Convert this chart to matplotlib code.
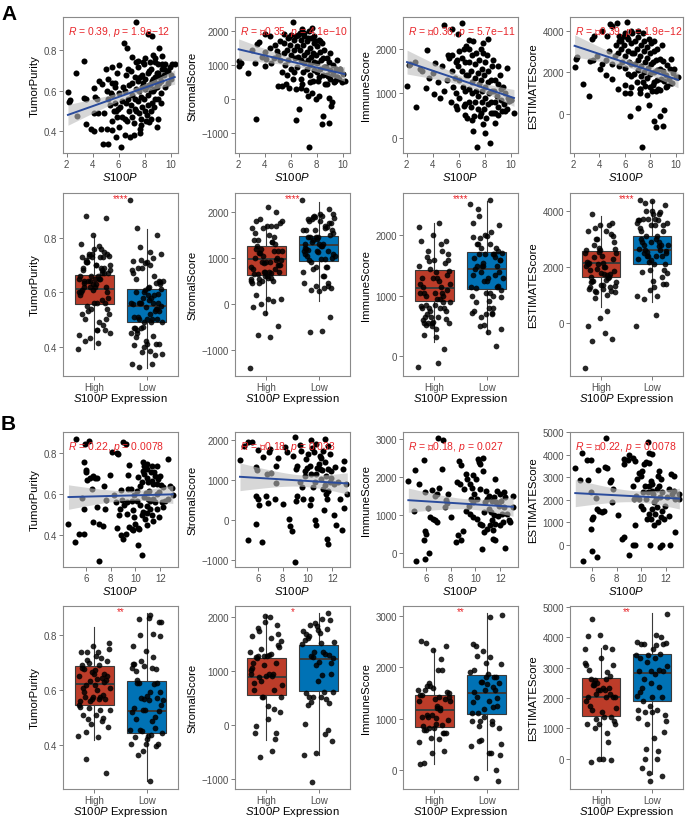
# correlation of S100P expression with ESTIMATE scores, two cohorts (A, B)
import numpy as np
import matplotlib
matplotlib.use("Agg")
import matplotlib.pyplot as plt

plt.rcParams["font.family"] = ["Liberation Sans", "DejaVu Sans"]
plt.rcParams["mathtext.fontset"] = "custom"
plt.rcParams["mathtext.rm"] = "Liberation Sans"
plt.rcParams["mathtext.it"] = "Liberation Sans:italic"

# ---------------- data ----------------
score_names = ["TumorPurity", "StromalScore", "ImmuneScore", "ESTIMATEScore"]
group_names = ["High", "Low"]

# cohort A scatter, (S100P, score)
a_purity = [
    (7.32, 0.939), (3.36, 0.749), (2.74, 0.688), (2.1, 0.595), (2.2, 0.545), (2.25, 0.555), (3.33, 0.562),
    (3.5, 0.56), (4.12, 0.612), (4.2, 0.57), (3.5, 0.435), (3.9, 0.41), (4.07, 0.40), (4.8, 0.335),
    (5.2, 0.335), (6.2, 0.324), (4.66, 0.41), (5.1, 0.41), (5.48, 0.407), (5.79, 0.37), (6.45, 0.38),
    (6.88, 0.372), (7.2, 0.383), (7.6, 0.393), (7.65, 0.413), (8.24, 0.879), (8.55, 0.873), (9.06, 0.81),
    (6.37, 0.836), (6.63, 0.81), (8.6, 0.777), (8.8, 0.76), (9.3, 0.732), (10.1, 0.732), (9.77, 0.70),
    (8.93, 0.633), (5.0, 0.707), (5.5, 0.716), (5.99, 0.727), (7.0, 0.765), (7.5, 0.749), (7.9, 0.74),
    (5.48, 0.638), (5.73, 0.617), (4.5, 0.65), (4.7, 0.633), (8.3, 0.443), (2.77, 0.474),
    (5.52, 0.45), (5.48, 0.58), (5.77, 0.50), (5.73, 0.64), (6.02, 0.42), (5.98, 0.51), (6.05, 0.59),
    (6.27, 0.47), (6.22, 0.55), (6.3, 0.62), (6.48, 0.46), (6.53, 0.54), (6.45, 0.60), (6.55, 0.68),
    (6.77, 0.50), (6.72, 0.56), (6.8, 0.63), (6.74, 0.71), (7.02, 0.47), (6.97, 0.53), (7.05, 0.58),
    (7.0, 0.64), (6.95, 0.70), (7.27, 0.51), (7.22, 0.56), (7.3, 0.61), (7.25, 0.67), (7.2, 0.44),
    (7.52, 0.49), (7.47, 0.55), (7.55, 0.60), (7.5, 0.65), (7.45, 0.72), (7.77, 0.52), (7.72, 0.57),
    (7.8, 0.62), (7.75, 0.68), (7.7, 0.46), (8.02, 0.50), (7.97, 0.56), (8.05, 0.61), (8.0, 0.66),
    (7.95, 0.73), (8.27, 0.53), (8.22, 0.58), (8.3, 0.63), (8.25, 0.69), (8.2, 0.48), (8.52, 0.54),
    (8.47, 0.60), (8.55, 0.65), (8.5, 0.71), (8.45, 0.50), (8.77, 0.56), (8.72, 0.61), (8.8, 0.67),
    (8.75, 0.74), (8.7, 0.52), (9.02, 0.56), (8.97, 0.62), (9.05, 0.69), (9.0, 0.73), (9.27, 0.59),
    (9.22, 0.65), (9.3, 0.71), (9.25, 0.54), (9.52, 0.62), (9.47, 0.68), (9.55, 0.73), (9.77, 0.64),
    (9.72, 0.70), (10.02, 0.66), (9.97, 0.72),
    (8.1, 0.62), (8.4, 0.63), (8.6, 0.60), (8.9, 0.69), (9.1, 0.64), (9.2, 0.67), (8.3, 0.70), (7.9, 0.64),
    (7.6, 0.67), (8.6, 0.66), (8.7, 0.65), (9.3, 0.77), (9.5, 0.71), (8.4, 0.74), (8.0, 0.76), (7.3, 0.74),
    (10.3, 0.73), (10.0, 0.68), (5.4, 0.59), (5.1, 0.60), (5.7, 0.54), (4.4, 0.49), (4.3, 0.56), (4.9, 0.49),
    (5.2, 0.56), (5.3, 0.53), (5.6, 0.50), (5.9, 0.47), (5.2, 0.66), (5.9, 0.69), (4.1, 0.49), (6.1, 0.52),
    (6.6, 0.45), (7.3, 0.50), (7.7, 0.43), (8.1, 0.45), (8.5, 0.46), (8.9, 0.42), (9.0, 0.46),
]
a_stromal = [
    (6.2, 2255), (7.41, -1402), (3.32, -588), (6.38, -608), (6.64, -294), (8.4, -735), (8.97, -686),
    (8.5, -490), (9.1, -196), (9.15, -78), (8.97, 49), (7.93, 0), (8.19, 98), (2.0, 1127), (2.15, 1078),
    (2.05, 980), (2.75, 765), (3.27, 1078), (4.05, 980), (4.13, 1176), (5.03, 392), (5.34, 392), (5.6, 441),
    (5.86, 343), (6.38, 294), (6.77, 343), (7.16, 274), (7.34, 98), (7.67, 196), (3.4, 1618), (3.53, 1667),
    (4.05, 1912), (4.44, 1863), (5.47, 1912), (5.86, 1814), (6.9, 2059), (7.41, 2010), (4.95, 1422),
    (4.69, 1225), (9.75, 882), (10.13, 539), (9.56, 667), (9.36, 539), (8.84, 686),
    (5.52, 1650), (5.47, 1350), (5.55, 1000), (5.77, 1800), (5.72, 1450), (5.8, 1150), (6.02, 1900),
    (5.97, 1600), (6.05, 1300), (6.0, 900), (6.27, 1750), (6.22, 1450), (6.3, 1200), (6.25, 800),
    (6.52, 1900), (6.47, 1550), (6.55, 1250), (6.5, 950), (6.77, 1750), (6.72, 1450), (6.8, 1150),
    (6.75, 600), (7.02, 1850), (6.97, 1600), (7.05, 1300), (7.0, 1050), (6.95, 800), (7.27, 1700),
    (7.22, 1400), (7.3, 1150), (7.25, 900), (7.52, 1800), (7.47, 1500), (7.55, 1250), (7.5, 1000),
    (7.45, 700), (7.77, 1650), (7.72, 1350), (7.8, 1100), (7.75, 850), (7.7, 550), (8.02, 1550),
    (7.97, 1300), (8.05, 1050), (8.0, 800), (8.27, 1700), (8.22, 1400), (8.3, 1150), (8.25, 900),
    (8.2, 650), (8.52, 1450), (8.47, 1200), (8.55, 950), (8.5, 700), (8.77, 1200), (8.72, 950),
    (8.8, 700), (8.75, 450), (9.02, 1350), (8.97, 1100), (9.05, 850), (9.0, 600), (9.27, 1000),
    (9.22, 750), (9.3, 500), (9.52, 1150), (9.47, 900), (9.55, 650), (9.77, 850), (9.72, 600),
    (10.02, 750), (9.97, 500),
    (4.8, 1600), (4.5, 1050), (3.8, 1250), (3.0, 1450), (4.4, 1500), (5.2, 1150), (5.0, 1300), (5.2, 1700),
    (4.0, 1400), (7.0, 1950), (7.8, 1850), (8.2, 1750), (6.7, 1950), (7.6, 2100), (6.4, 1850), (7.3, 1800),
    (7.9, 1700), (8.4, 1650), (6.9, 450), (7.5, 500), (8.1, 550), (8.6, 450), (5.3, 800), (5.7, 700),
    (6.2, 600),
]
a_immune = [
    (4.88, 2522), (6.25, 2582), (5.47, 2433), (7.39, -194), (8.42, -119), (2.03, 1164), (2.73, 701),
    (3.53, 1970), (4.18, 1687), (5.26, 1799), (4.1, 978), (4.54, 903), (3.45, 1127), (9.02, 507),
    (9.54, 604), (10.24, 567), (9.88, 828), (9.36, 1142), (9.67, 1575), (9.15, 1403), (7.08, 157),
    (6.51, 507), (5.78, 716), (6.43, 716), (7.85, 306), (8.76, 343), (7.98, 119), (7.6, 493), (5.91, 2321),
    (7.08, 2172), (7.85, 2134), (8.24, 2209), (6.82, 1985), (2.16, 1627), (2.28, 1649), (3.19, 1500),
    (2.67, 1701),
    (5.52, 1850), (5.47, 1500), (5.55, 1150), (5.77, 1700), (5.72, 1350), (5.8, 1000), (6.02, 1950),
    (5.97, 1600), (6.05, 1300), (6.0, 900), (6.27, 1800), (6.22, 1500), (6.3, 1150), (6.52, 2050),
    (6.47, 1700), (6.55, 1400), (6.5, 1050), (6.45, 750), (6.77, 1700), (6.72, 1400), (6.8, 1100),
    (6.75, 800), (7.02, 1850), (6.97, 1500), (7.05, 1250), (7.0, 1000), (6.95, 700), (7.27, 1650),
    (7.22, 1350), (7.3, 1050), (7.25, 800), (7.2, 500), (7.52, 1750), (7.47, 1450), (7.55, 1200),
    (7.5, 950), (7.45, 650), (7.77, 1550), (7.72, 1300), (7.8, 1050), (7.75, 800), (7.7, 550),
    (8.02, 1700), (7.97, 1400), (8.05, 1150), (8.0, 900), (7.95, 650), (8.27, 1500), (8.22, 1250),
    (8.3, 1000), (8.25, 750), (8.52, 1600), (8.47, 1300), (8.55, 1050), (8.5, 800), (8.45, 550),
    (8.77, 1300), (8.72, 1050), (8.8, 800), (8.75, 550), (9.02, 1200), (8.97, 950), (9.05, 700),
    (9.27, 1100), (9.22, 850), (9.3, 600), (9.52, 1000), (9.47, 750), (9.77, 900), (9.72, 650),
    (10.02, 850),
    (4.7, 1600), (4.4, 1250), (4.0, 1450), (3.7, 1350), (3.0, 1550), (5.1, 1300), (4.9, 1050), (5.2, 1850),
    (5.9, 1750), (6.4, 2000), (6.8, 2200), (7.3, 1900), (7.7, 2000), (7.9, 1900), (8.2, 1850), (8.6, 1750),
    (9.0, 1600), (5.4, 800), (5.9, 650), (6.6, 450), (7.0, 400), (8.1, 450), (8.6, 550),
]
a_estimate = [
    (7.36, -1629), (6.4, -129), (8.3, -371), (8.43, -661), (8.99, -581), (9.07, 161), (8.74, -129),
    (7.05, 274), (7.88, 435), (3.24, 839), (2.7, 1403), (2.08, 2258), (2.18, 2645), (2.26, 2742),
    (3.3, 2532), (3.48, 2565), (4.07, 2129), (4.51, 1839), (4.98, 1645), (5.45, 1194), (6.01, 968),
    (6.4, 968), (7.18, 1161), (7.57, 1323), (8.22, 1371), (9.64, 1484), (10.16, 1758), (9.85, 2129),
    (9.64, 2613), (4.85, 4306), (4.98, 4226), (5.37, 4355), (6.15, 4419), (4.2, 3984), (3.63, 3742),
    (3.42, 3581), (5.55, 3742), (4.6, 3742),
    (5.52, 3500), (5.47, 2900), (5.55, 2300), (5.77, 3700), (5.72, 3100), (5.8, 2500), (6.02, 3900),
    (5.97, 3300), (6.05, 2800), (6.0, 2200), (6.27, 3600), (6.22, 3000), (6.3, 2500), (6.25, 1900),
    (6.52, 4000), (6.47, 3400), (6.55, 2900), (6.5, 2400), (6.45, 1800), (6.77, 3500), (6.72, 2900),
    (6.8, 2400), (6.75, 1900), (7.02, 3700), (6.97, 3100), (7.05, 2600), (7.0, 2100), (6.95, 1500),
    (7.27, 3300), (7.22, 2800), (7.3, 2300), (7.25, 1800), (7.2, 1200), (7.52, 3500), (7.47, 3000),
    (7.55, 2500), (7.5, 2000), (7.45, 1500), (7.77, 3200), (7.72, 2700), (7.8, 2200), (7.75, 1700),
    (8.02, 3400), (7.97, 2900), (8.05, 2400), (8.0, 1900), (7.95, 1300), (8.27, 3000), (8.22, 2500),
    (8.3, 2000), (8.25, 1500), (8.52, 3100), (8.47, 2600), (8.55, 2100), (8.5, 1600), (8.45, 1100),
    (8.77, 2650), (8.72, 2150), (8.8, 1650), (8.75, 1150), (9.02, 2550), (8.97, 2050), (9.05, 1550),
    (9.27, 2350), (9.22, 1850), (9.3, 1350), (9.52, 2150), (9.47, 1650), (9.77, 1950), (9.72, 1450),
    (10.02, 1750),
    (4.8, 3000), (4.5, 2600), (4.2, 2400), (3.8, 2800), (5.0, 2400), (5.2, 2800), (5.3, 3300), (5.7, 3500),
    (6.2, 3700), (6.6, 3900), (7.0, 4000), (7.4, 3900), (7.9, 3600), (8.3, 3500), (8.9, 3300), (6.0, 1400),
    (6.5, 1300), (7.2, 1000), (7.7, 900), (8.1, 1100), (8.6, 1200), (9.2, 1300),
]

# cohort B scatter, (S100P, score)
b_purity = [
    (4.61, 0.454), (5.22, 0.873), (5.12, 0.364), (5.49, 0.405), (5.89, 0.405), (5.87, 0.759), (6.0, 0.72),
    (6.03, 0.707), (5.95, 0.849), (6.29, 0.862), (6.13, 0.669), (6.35, 0.678), (6.56, 0.687), (6.75, 0.679),
    (6.94, 0.679), (6.48, 0.625), (5.87, 0.524), (5.7, 0.58), (6.88, 0.535), (6.56, 0.462), (7.05, 0.45),
    (7.37, 0.442), (7.05, 0.269), (7.47, 0.638), (7.64, 0.571), (7.53, 0.527), (7.96, 0.694), (8.14, 0.805),
    (8.55, 0.80), (8.63, 0.797), (8.49, 0.433), (8.71, 0.495), (8.84, 0.397), (8.98, 0.38), (9.24, 0.405),
    (9.46, 0.438), (9.03, 0.857), (9.22, 0.849), (9.51, 0.743), (9.43, 0.694), (8.84, 0.622), (8.9, 0.571),
    (9.11, 0.547), (9.3, 0.563), (9.38, 0.625), (9.62, 0.625), (9.7, 0.568), (9.78, 0.519), (9.89, 0.487),
    (9.97, 0.454), (10.18, 0.433), (10.26, 0.429), (10.24, 0.348), (10.5, 0.299), (10.64, 0.759),
    (10.69, 0.74), (10.64, 0.715), (10.69, 0.699), (10.9, 0.748), (10.9, 0.723), (10.96, 0.678),
    (11.04, 0.658), (11.31, 0.666), (11.44, 0.65), (11.58, 0.69), (11.71, 0.74), (11.71, 0.65),
    (11.84, 0.674), (11.98, 0.69), (12.03, 0.645), (12.19, 0.633), (11.92, 0.609), (11.71, 0.601),
    (11.44, 0.576), (11.17, 0.568), (11.04, 0.576), (10.9, 0.54), (11.17, 0.527), (11.31, 0.495),
    (11.44, 0.465), (10.96, 0.508), (10.64, 0.511), (10.5, 0.498), (10.77, 0.475), (10.37, 0.544),
    (10.1, 0.568), (9.89, 0.593), (10.16, 0.617), (10.37, 0.638), (10.5, 0.658), (10.24, 0.682),
    (11.92, 0.487), (12.25, 0.536), (12.65, 0.772), (12.78, 0.642), (13.0, 0.593), (12.92, 0.629),
    (12.38, 0.568), (12.11, 0.56), (12.65, 0.576), (11.5, 0.71), (11.23, 0.707), (11.12, 0.617),
    (10.85, 0.606), (10.69, 0.583), (11.58, 0.56), (11.71, 0.527), (11.31, 0.74), (10.9, 0.446),
    (9.83, 0.421), (9.7, 0.429), (9.3, 0.503), (8.76, 0.527), (8.41, 0.563), (8.31, 0.593),
]
b_stromal = [
    (4.57, 1495), (5.19, 1950), (4.87, 1851), (5.54, 1934), (6.0, 1751), (6.4, 1561), (5.87, 1312),
    (5.92, 1254), (5.87, 608), (6.0, 525), (6.13, 373), (5.87, -96), (5.19, -510), (6.32, -552),
    (6.67, 608), (6.81, 426), (6.73, 1147), (7.08, 1171), (6.94, 1685), (6.99, 1768), (7.48, 1354),
    (7.62, 1536), (7.48, 923), (7.35, 525), (8.02, 401), (8.16, 1826), (8.48, 28), (8.61, -162),
    (8.96, -1049), (8.78, -286), (8.35, 1702), (8.83, 1602), (8.96, 2058), (9.37, 1876), (9.5, 1727),
    (9.15, 1354), (9.1, 1271), (9.37, 940), (9.58, 815), (9.18, 592), (9.05, 484), (9.64, 525),
    (9.77, 1229), (9.91, 1519), (10.04, 1644), (10.18, 1354), (10.31, 2000), (10.39, 1785), (10.5, 1685),
    (10.66, 1892), (10.72, 1147), (10.58, 940), (10.45, 815), (10.26, 525), (10.18, 360), (10.58, -13),
    (10.66, -137), (10.99, 1271), (11.12, 1022), (11.04, 1602), (11.26, 1727), (11.39, 1437),
    (11.66, 1271), (11.26, 774), (11.47, 650), (11.53, 525), (11.66, 733), (11.8, 940), (11.93, 1229),
    (11.66, 1851), (11.39, 2017), (11.8, 1644), (11.53, -469), (11.66, -593), (11.31, 235), (12.15, 111),
    (12.33, -137), (12.74, -262), (12.6, 525), (12.47, 940), (12.2, 1312), (12.87, 1271), (12.93, 1478),
    (13.1, 900), (13.2, 650), (12.9, 300), (10.9, 1400), (11.1, 1550), (10.8, 1300), (11.2, 1250),
    (10.3, 1150), (10.0, 1300), (9.8, 1100), (11.5, 1100), (11.9, 1050), (12.1, 900), (11.4, 880),
]
b_immune = [
    (4.6, 1906), (5.14, 2195), (5.06, 1119), (5.22, -220), (5.49, 1819), (5.89, 2449), (5.95, 1618),
    (5.95, 577), (6.0, 507), (5.87, 332), (5.95, -150), (6.3, 8), (6.21, 1180), (6.35, 944), (6.56, 900),
    (6.75, 857), (6.94, 813), (6.48, 1670), (6.75, 1513), (6.94, 1556), (7.08, 1705), (7.02, 3026),
    (7.37, 2982), (7.34, 2212), (7.61, 1408), (7.75, 1556), (7.69, 1320), (7.51, 1224), (8.04, 953),
    (8.42, 288), (8.5, 1863), (8.69, 2414), (8.77, 1819), (8.82, 2318), (8.58, 463), (8.82, 332),
    (8.98, 568), (9.09, 1688), (9.25, 2081), (9.31, 1950), (9.52, 1819), (9.71, 1714), (9.79, 2055),
    (9.9, 1556), (10.06, 1950), (10.17, 2475), (10.25, 2405), (10.38, 2344), (10.6, 2519), (10.57, 2169),
    (10.33, 1688), (10.11, 1425), (9.84, 1338), (9.66, 1425), (9.44, 1250), (9.58, 1031), (9.25, 1119),
    (9.84, 944), (10.11, 900), (10.38, 769), (10.52, 725), (10.65, 1075), (10.79, 1338), (10.92, 1425),
    (10.87, 1644), (11.05, 1513), (11.32, 1381), (11.51, 1469), (11.59, 1950), (11.73, 1644),
    (11.67, 1338), (11.86, 1250), (11.94, 1556), (12.05, 1381), (12.26, 1600), (12.4, 1469),
    (12.32, 1207), (12.13, 1031), (11.78, 970), (11.51, 1005), (11.32, 857), (11.13, 725), (10.92, 620),
    (10.71, 550), (11.4, 594), (11.59, 769), (11.94, 725), (12.21, 813), (12.53, 1031), (12.67, 883),
    (12.8, 813), (13.02, 1495), (13.02, 1207), (12.4, 130), (11.4, 375), (11.59, 332), (10.52, 113),
    (11.05, 1163), (11.24, 1075),
]
b_estimate = [
    (4.6, 3402), (5.19, 4083), (5.54, 3772), (5.87, 3772), (5.0, 2885), (5.63, 2885), (5.87, 2367),
    (5.95, 1154), (6.03, 1228), (5.87, 680), (5.95, -296), (6.35, -547), (5.22, -740), (6.3, 2071),
    (6.35, 1598), (6.56, 1524), (6.75, 1450), (6.94, 1524), (6.48, 3328), (7.02, 3447), (7.16, 3402),
    (7.08, 4749), (7.48, 2781), (7.64, 1893), (7.56, 2885), (7.7, 2485), (8.1, 1346), (8.45, 266),
    (8.56, 340), (8.55, 3817), (8.63, 3595), (8.9, 3787), (8.98, 3994), (8.98, -473), (9.36, 3846),
    (9.52, 3743), (9.31, 2633), (9.52, 888), (9.44, 2041), (9.58, 2189), (9.63, 2929), (9.84, 3195),
    (9.98, 3047), (10.06, 3299), (10.25, 3595), (10.38, 3669), (10.52, 4586), (10.65, 3624), (10.6, 4083),
    (10.87, 4038), (10.79, 2855), (10.33, 2604), (10.11, 2337), (9.84, 2041), (9.98, 1746), (10.17, 1598),
    (10.38, 2041), (10.52, 2337), (10.65, 2633), (10.92, 2707), (10.98, 2263), (11.05, 1893),
    (11.19, 2041), (11.32, 2485), (11.4, 3077), (11.46, 3299), (11.59, 2929), (11.67, 2337),
    (11.51, 2115), (11.32, 1672), (11.13, 1376), (10.92, 1598), (10.65, 1376), (10.44, 1154),
    (10.79, 1154), (11.05, 858), (11.4, 1006), (11.59, 1228), (11.73, 1524), (11.94, 1746), (12.13, 2115),
    (12.26, 2485), (12.4, 3151), (12.53, 2263), (12.67, 2411), (12.8, 2041), (13.07, 2263), (13.12, 2041),
    (12.8, 562), (12.26, 1302), (11.86, 1154), (11.67, 0), (11.51, -104), (12.32, -30), (10.71, 0),
    (9.31, 0), (9.52, 0), (12.67, 3077), (11.46, 2633), (10.87, 2411),
]

# correlation labels as printed (the minus sign shows as a missing-glyph box)
a_r = ["0.39", "\u22a00.35", "\u22a00.36", "\u22a00.39"]
a_p = ["1.9e\u221212", "4.1e\u221210", "5.7e\u221211", "1.9e\u221212"]
b_r = ["0.22", "\u22a00.18", "\u22a00.18", "\u22a00.22"]
b_p = ["0.0078", "0.033", "0.027", "0.0078"]

# box summaries (whislo, q1, median, q3, whishi) for High / Low S100P
a_box_high = [(0.39, 0.556, 0.611, 0.665, 0.807), (-250, 629, 975, 1255, 1720),
              (233, 906, 1122, 1427, 2200), (560, 1655, 2131, 2583, 3845)]
a_box_low = [(0.32, 0.49, 0.551, 0.612, 0.834), (60, 935, 1275, 1487, 2220),
             (360, 1110, 1440, 1717, 2576), (750, 2107, 2631, 3119, 4357)]
b_box_high = [(0.42, 0.545, 0.622, 0.686, 0.83), (-264, 558, 896, 1245, 2025),
              (123, 838, 1175, 1468, 2350), (-66, 1422, 2024, 2659, 3632)]
b_box_low = [(0.268, 0.445, 0.524, 0.634, 0.88), (-540, 620, 1227, 1472, 2067),
             (0, 1084, 1506, 1857, 3050), (-503, 1904, 2812, 3435, 4781)]
a_stars = ["****", "****", "****", "****"]
b_stars = ["**", "*", "**", "**"]

# tick values
a_xticks = [2, 4, 6, 8, 10]
b_xticks = [6, 8, 10, 12]
a_yticks = [[0.4, 0.6, 0.8], [-1000, 0, 1000, 2000], [0, 1000, 2000], [0, 2000, 4000]]
b_yticks = [[0.4, 0.6, 0.8], [-1000, 0, 1000, 2000], [0, 1000, 2000, 3000],
            [0, 1000, 2000, 3000, 4000, 5000]]

# ---------------- layout ----------------
W, H = 685, 820
col_px = [(63, 178), (235, 350), (403, 518), (570, 683)]
row_px = [(18, 154), (194, 377), (433, 568), (607, 790)]
a_xlim = (1.72, 10.55)
b_xlim = (4.17, 13.42)
a_ylims = [(0.292, 0.965), (-1578, 2415), (-336, 2706), (-1905, 4658)]
b_ylims = [(0.24, 0.906), (-1175, 2194), (-370, 3192), (-990, 5020)]

RED = "#BC3C29"
BLUE = "#0072B5"
TXT_RED = "#E8252A"
LINE_BLUE = "#2B4C9C"
FRAME = "#8A8A8A"

fig = plt.figure(figsize=(W / 100, H / 100), dpi=100)


def new_axes(col, row):
    l, r = col_px[col]
    t, b = row_px[row]
    return fig.add_axes([l / W, 1 - b / H, (r - l) / W, (b - t) / H])


def fmt(v):
    if isinstance(v, float):
        return f"{v:.1f}"
    return f"{v}".replace("-", "\u2212")


def style(ax, ylabel):
    for s in ax.spines.values():
        s.set_color(FRAME)
        s.set_linewidth(0.8)
    ax.tick_params(direction="out", length=2.6, width=0.6, color="#666666",
                   labelsize=7, labelcolor="#4D4D4D", pad=1.8)
    ax.set_ylabel(ylabel, fontsize=8.2, labelpad=3)


def scatter_panel(ax, pts, xlim, ylim, xticks, yticks, ylabel, r, p):
    pts = np.array(pts, dtype=float)
    x, y = pts[:, 0], pts[:, 1]
    ax.scatter(x, y, s=19, color="black", linewidths=0, zorder=2)
    # linear fit with 95% confidence band, like geom_smooth(method = "lm")
    slope, icpt = np.polyfit(x, y, 1)
    xs = np.linspace(x.min(), x.max(), 100)
    fit = icpt + slope * xs
    resid = y - (icpt + slope * x)
    n = len(x)
    s_err = np.sqrt(np.sum(resid ** 2) / (n - 2))
    se = s_err * np.sqrt(1 / n + (xs - x.mean()) ** 2 / np.sum((x - x.mean()) ** 2))
    ax.fill_between(xs, fit - 1.97 * se, fit + 1.97 * se, color="#BDBDBD", alpha=0.6,
                    linewidth=0, zorder=3)
    ax.plot(xs, fit, color=LINE_BLUE, linewidth=1.4, zorder=4)
    ax.set_xlim(xlim)
    ax.set_ylim(ylim)
    ax.set_xticks(xticks)
    ax.set_xticklabels([fmt(v) for v in xticks])
    ax.set_yticks(yticks)
    ax.set_yticklabels([fmt(v) for v in yticks])
    ax.text(0.045, 0.895, r"$\it{R}$ = " + r + r", $\it{p}$ = " + p, transform=ax.transAxes,
            color=TXT_RED, fontsize=7.5, ha="left", va="center", zorder=5)
    style(ax, ylabel)
    ax.set_xlabel(r"$\it{S100P}$", fontsize=8.2, labelpad=1)


def box_panel(ax, pts, ylim, yticks, ylabel, high, low, stars):
    pts = np.array(pts, dtype=float)
    cut = np.median(pts[:, 0])
    groups = [pts[pts[:, 0] >= cut, 1], pts[pts[:, 0] < cut, 1]]
    stats = []
    for q in (high, low):
        stats.append(dict(whislo=q[0], q1=q[1], med=q[2], q3=q[3], whishi=q[4], fliers=[]))
    bp = ax.bxp(stats, positions=[1, 2], widths=0.75, patch_artist=True, showfliers=False,
                showcaps=False,
                boxprops=dict(edgecolor="#3A3A3A", linewidth=0.8),
                medianprops=dict(color="#3A3A3A", linewidth=1.4),
                whiskerprops=dict(color="#3A3A3A", linewidth=0.8))
    for patch, c in zip(bp["boxes"], [RED, BLUE]):
        patch.set_facecolor(c)
    # spread the dots sideways inside each box (golden-ratio offsets, no randomness)
    for k, vals in enumerate(groups):
        off = ((np.arange(len(vals)) * 0.618034) % 1 - 0.5) * 0.62
        ax.scatter(k + 1 + off, vals, s=17, color="black", alpha=0.85, linewidths=0, zorder=3)
    ax.set_xlim(0.4, 2.6)
    ax.set_ylim(ylim)
    ax.set_xticks([1, 2])
    ax.set_xticklabels(group_names)
    ax.set_yticks(yticks)
    ax.set_yticklabels([fmt(v) for v in yticks])
    ax.text(1.5, ylim[1], stars, color=TXT_RED, fontsize=7, ha="center", va="top")
    style(ax, ylabel)
    ax.set_xlabel(r"$\it{S100P}$ Expression", fontsize=8.2, labelpad=-0.5)


a_sets = [a_purity, a_stromal, a_immune, a_estimate]
b_sets = [b_purity, b_stromal, b_immune, b_estimate]

for i in range(4):
    scatter_panel(new_axes(i, 0), a_sets[i], a_xlim, a_ylims[i], a_xticks, a_yticks[i],
                  score_names[i], a_r[i], a_p[i])
    box_panel(new_axes(i, 1), a_sets[i], a_ylims[i], a_yticks[i], score_names[i],
              a_box_high[i], a_box_low[i], a_stars[i])
    scatter_panel(new_axes(i, 2), b_sets[i], b_xlim, b_ylims[i], b_xticks, b_yticks[i],
                  score_names[i], b_r[i], b_p[i])
    box_panel(new_axes(i, 3), b_sets[i], b_ylims[i], b_yticks[i], score_names[i],
              b_box_high[i], b_box_low[i], b_stars[i])

fig.text(1 / W, 1 - 5 / H, "A", fontsize=15, fontweight="bold", ha="left", va="top")
fig.text(1 / W, 1 - 415 / H, "B", fontsize=15, fontweight="bold", ha="left", va="top")

fig.savefig("out.png", dpi=100)
